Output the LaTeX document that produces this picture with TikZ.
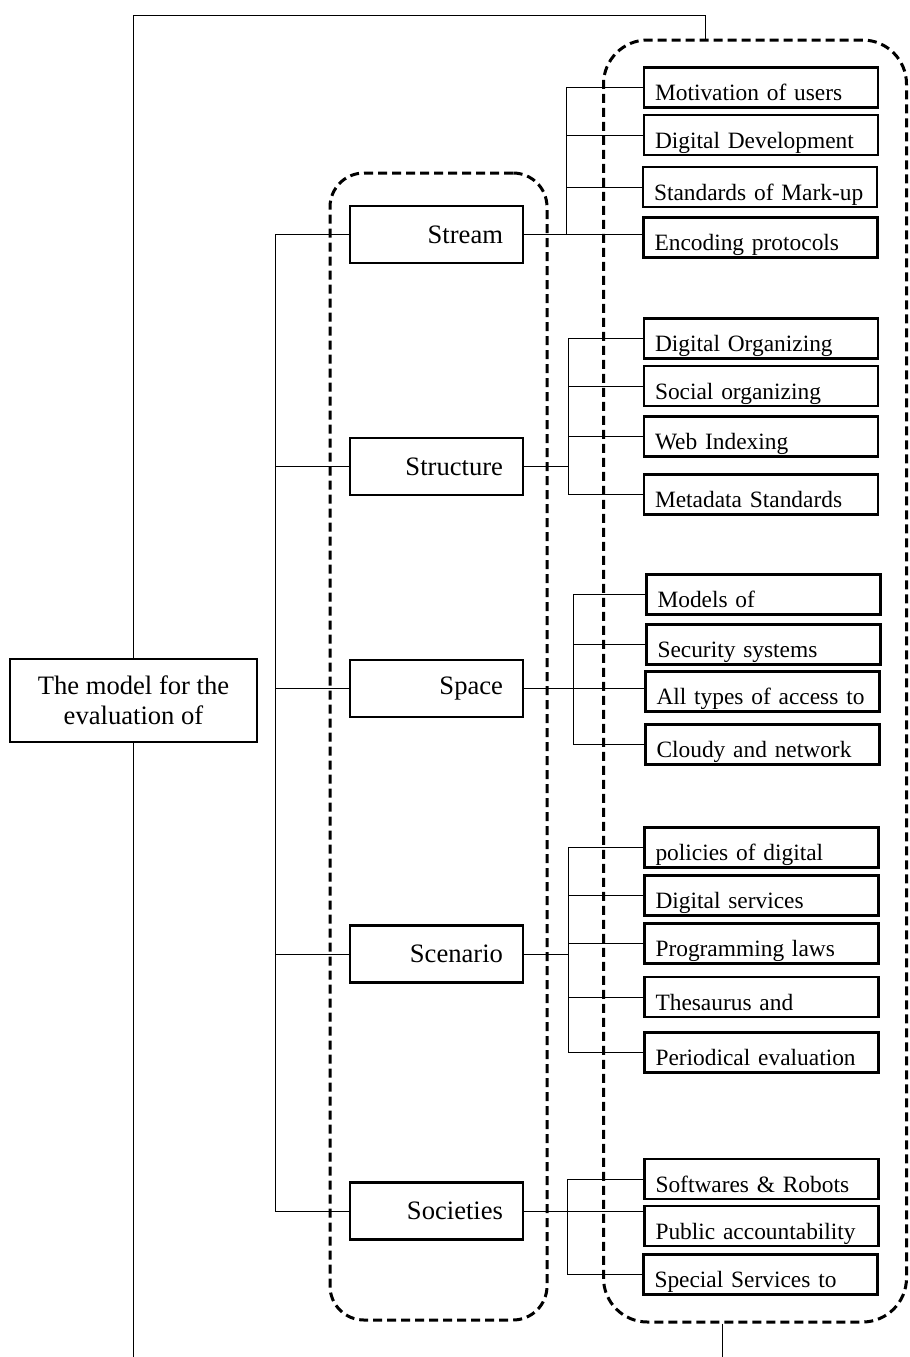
\documentclass[tikz,border=0pt]{standalone}
\usepackage{fontspec}
\setmainfont{Liberation Serif}
\usetikzlibrary{positioning}

\tikzset{
  group/.style={draw, dashed, line width=1.5pt, dash pattern=on 4.5pt off 2.5pt,
    rounded corners=#1, inner sep=0pt},
  mainbox/.style={draw, line width=1.3pt, minimum width=123.5pt, minimum height=41.5pt,
    align=center, font=\fontsize{13.3}{15}\selectfont},
  midbox/.style={draw, line width=1.3pt, minimum width=86.5pt, minimum height=28.5pt,
    inner xsep=10pt, text width=66.5pt, align=right, font=\fontsize{13.3}{15}\selectfont},
  leaf/.style={draw, line width=1.3pt, minimum width=117pt, minimum height=20pt,
    inner xsep=5.5pt, text width=106pt, align=left, text height=13pt, text depth=0pt,
    font=\fontsize{11.7}{14}\selectfont},
  link/.style={line width=0.5pt}
}

\begin{document}
\begin{tikzpicture}[x=0.5pt,y=-0.5pt]
  \useasboundingbox (0,0) rectangle (910,1357);

  % dashed groups
  \node[group=17pt, minimum width=108.5pt, minimum height=573.5pt] (grpA) at (438.5,746.5) {};
  \node[group=22pt, minimum width=151.5pt, minimum height=641pt] (grpB) at (755,681) {};

  % main box
  \node[mainbox] (model) at (133.5,700.5) {The model for the\\evaluation of};

  % middle level
  \node[midbox] (stream) at (436.5,234.5) {Stream};
  \node[midbox] (structure) at (436.5,466.5) {Structure};
  \node[midbox] (space) at (436.5,688.5) {Space};
  \node[midbox] (scenario) at (436.5,954) {Scenario};
  \node[midbox] (societies) at (436.5,1211) {Societies};

  % leaves of stream
  \node[leaf] (mot) at (761,87.5) {Motivation of users};
  \node[leaf] (ddev) at (761,135) {Digital Development};
  \node[leaf] (stdm) at (760,187) {Standards of Mark-up};
  \node[leaf] (enc) at (760.5,237.5) {Encoding protocols};

  % leaves of structure
  \node[leaf] (dorg) at (761,338.5) {Digital Organizing};
  \node[leaf] (sorg) at (761,386) {Social organizing};
  \node[leaf] (webi) at (761,436.5) {Web Indexing};
  \node[leaf] (meta) at (761,494.5) {Metadata Standards};

  % leaves of space
  \node[leaf] (modl) at (763.5,594.5) {Models of};
  \node[leaf] (secs) at (763.5,644.5) {Security systems};
  \node[leaf] (acc) at (762.5,691.5) {All types of access to};
  \node[leaf] (cloud) at (762.5,744.5) {Cloudy and network};

  % leaves of scenario
  \node[leaf] (pol) at (761.5,847.5) {policies of digital};
  \node[leaf] (dserv) at (761.5,895.5) {Digital services};
  \node[leaf] (prog) at (761.5,943.5) {Programming laws};
  \node[leaf] (thes) at (761.5,997) {Thesaurus and};
  \node[leaf] (peri) at (761.5,1052.5) {Periodical evaluation};

  % leaves of societies
  \node[leaf] (soft) at (761.5,1179) {Softwares \& Robots};
  \node[leaf] (pub) at (761.5,1226) {Public accountability};
  \node[leaf] (spec) at (760.5,1274.5) {Special Services to};

  % spines
  \coordinate (lsp) at (275,0);
  \coordinate (s1) at (566,0);
  \coordinate (s2) at (568,0);
  \coordinate (s3) at (573,0);
  \coordinate (s4) at (568,0);
  \coordinate (s5) at (567,0);
  \coordinate (topc) at (705,15);
  \coordinate (botl) at (0,1357);
  \coordinate (botr) at (722,1357);

  % outer loop
  \draw[link] (model.north) |- (topc) -- (topc |- grpB.north);
  \draw[link] (model.south) -- (model.south |- botl);
  \draw[link] (botr |- grpB.south) -- (botr);

  % left spine
  \draw[link] (lsp |- stream.west) -- (lsp |- societies.west);
  \foreach \n in {stream,structure,space,scenario,societies}
    \draw[link] (lsp |- \n.west) -- (\n.west);

  % stream
  \draw[link] (stream.east) -- (stream.east -| enc.west);
  \draw[link] (s1 |- mot.west) -- (s1 |- stream.east);
  \foreach \n in {mot,ddev,stdm}
    \draw[link] (s1 |- \n.west) -- (\n.west);

  % structure
  \draw[link] (structure.east) -- (s2 |- structure.east);
  \draw[link] (s2 |- dorg.west) -- (s2 |- meta.west);
  \foreach \n in {dorg,sorg,webi,meta}
    \draw[link] (s2 |- \n.west) -- (\n.west);

  % space
  \draw[link] (space.east) -- (space.east -| acc.west);
  \draw[link] (s3 |- modl.west) -- (s3 |- cloud.west);
  \foreach \n in {modl,secs,cloud}
    \draw[link] (s3 |- \n.west) -- (\n.west);

  % scenario
  \draw[link] (scenario.east) -- (s4 |- scenario.east);
  \draw[link] (s4 |- pol.west) -- (s4 |- peri.west);
  \foreach \n in {pol,dserv,prog,thes,peri}
    \draw[link] (s4 |- \n.west) -- (\n.west);

  % societies
  \draw[link] (societies.east) -- (societies.east -| pub.west);
  \draw[link] (s5 |- soft.west) -- (s5 |- spec.west);
  \foreach \n in {soft,spec}
    \draw[link] (s5 |- \n.west) -- (\n.west);
\end{tikzpicture}
\end{document}
